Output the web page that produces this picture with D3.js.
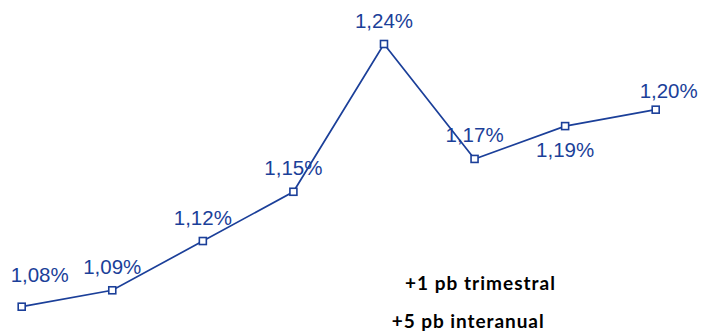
<!DOCTYPE html>
<html>
<head>
<meta charset="utf-8">
<script src="https://cdn.jsdelivr.net/npm/d3@7"></script>
<style>
  html, body { margin: 0; padding: 0; background: #ffffff; }
  svg { display: block; }
</style>
</head>
<body>
<svg id="chart" width="702" height="333"></svg>
<script>
// Quarterly rate series (%)
const periods = ["T1", "T2", "T3", "T4", "T5", "T6", "T7", "T8"];
const values = [1.08, 1.09, 1.12, 1.15, 1.24, 1.17, 1.19, 1.20];
const notes = ["+1 pb trimestral", "+5 pb interanual"];

// Label placement relative to each point: above by default, nudged at the edges
const labelSide = ["above", "above", "above", "above", "above", "above", "below", "above"];
const labelNudge = [[18, -8], [0, 0], [0, 0], [0, 0], [0, 0], [0, 0], [0, 0], [13, 5]];

const blue = "#1b3f99";
const svg = d3.select("#chart");

const x = d3.scalePoint().domain(periods).range([21.7, 655.7]);
const y = d3.scaleLinear().domain([1.08, 1.24]).range([306.7, 44]);

const fmt = v => d3.format(".2f")(v).replace(".", ",") + "%";

const line = d3.line()
  .x((d, i) => x(periods[i]))
  .y(d => y(d));

svg.append("path")
  .datum(values)
  .attr("d", line)
  .attr("fill", "none")
  .attr("stroke", blue)
  .attr("stroke-width", 1.7);

const ms = 7;
svg.selectAll("rect.marker")
  .data(values)
  .join("rect")
  .attr("class", "marker")
  .attr("x", (d, i) => x(periods[i]) - ms / 2)
  .attr("y", d => y(d) - ms / 2)
  .attr("width", ms)
  .attr("height", ms)
  .attr("fill", "#ffffff")
  .attr("stroke", blue)
  .attr("stroke-width", 1.6);

svg.selectAll("text.value")
  .data(values)
  .join("text")
  .attr("class", "value")
  .attr("x", (d, i) => x(periods[i]) + labelNudge[i][0])
  .attr("y", (d, i) => y(d) + (labelSide[i] === "above" ? -16.5 : 31.3) + labelNudge[i][1])
  .attr("text-anchor", "middle")
  .attr("font-family", "'Liberation Sans', Arial, sans-serif")
  .attr("font-size", 20.5)
  .attr("fill", blue)
  .text(d => fmt(d));

svg.selectAll("text.note")
  .data(notes)
  .join("text")
  .attr("class", "note")
  .attr("x", (d, i) => i === 0 ? 405 : 391.7)
  .attr("y", (d, i) => i === 0 ? 290 : 328.3)
  .attr("font-family", "Lato, 'Liberation Sans', sans-serif")
  .attr("font-weight", "bold")
  .attr("font-size", 19)
  .attr("fill", "#000000")
  .attr("textLength", (d, i) => i === 0 ? 150 : 152)
  .attr("lengthAdjust", "spacing")
  .text(d => d);
</script>
</body>
</html>
